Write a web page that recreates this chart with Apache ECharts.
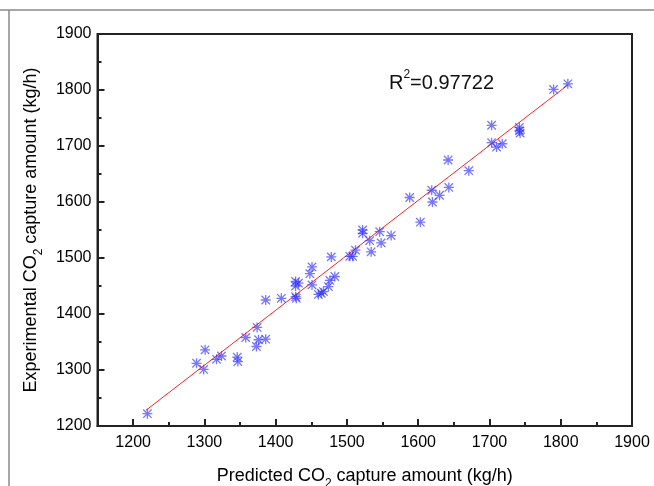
<!DOCTYPE html>
<html>
<head>
<meta charset="utf-8">
<script src="https://cdn.jsdelivr.net/npm/echarts@6/dist/echarts.min.js"></script>
<style>html,body{margin:0;padding:0;background:#fff}#c{width:654px;height:486px}</style>
</head>
<body>
<div id="c"></div>
<script>
// Predicted (x) vs experimental (y) CO2 capture amount, kg/h
const predicted = [1220,1289,1301,1299,1317,1324,1346,1347,1358,1374,1376,1373,1386,1386,1408,1428,1428,1432,1428,1429,1448,1451,1451,1460,1464,1467,1474,1476,1478,1483,1504,1508,1512,1522,1522,1532,1534,1546,1548,1562,1588,1603,1619,1620,1630,1643,1642,1671,1703,1703,1710,1718,1742,1742,1743,1790,1810];
const experimental = [1222,1312,1336,1301,1319,1325,1323,1315,1358,1376,1354,1342,1355,1425,1428,1458,1450,1455,1431,1428,1472,1484,1452,1435,1437,1440,1449,1460,1502,1467,1503,1503,1514,1550,1544,1531,1511,1547,1527,1540,1608,1564,1621,1600,1612,1626,1675,1656,1737,1706,1698,1704,1733,1727,1723,1801,1811];
// fitted line end points
const fitX = [1218, 1810];
const fitY = [1228, 1809];
const xTicks = [1200,1300,1400,1500,1600,1700,1800,1900];
const xMinorTicks = [1250,1350,1450,1550,1650,1750,1850];
const r2Text = '0.97722';

const chart = echarts.init(document.getElementById('c'), null, {renderer:'canvas'});
const axisCol = '#222';
const font = 'Liberation Sans, Arial, sans-serif';
const scatterData = predicted.map((v,i)=>[v, experimental[i]]);
const fitData = fitX.map((v,i)=>[v, fitY[i]]);
const plain = v => String(v);

chart.setOption({
  animation:false,
  textStyle:{fontFamily:font},
  grid:{left:97.5, right:22, top:34, bottom:60, containLabel:false, outerBoundsMode:'none',
        show:true, borderColor:axisCol, borderWidth:2, backgroundColor:'transparent'},
  xAxis:[{
    type:'value', min:1150, max:1900,
    axisLine:{show:true, lineStyle:{color:axisCol, width:2}},
    axisTick:{show:true, inside:true, length:7, customValues:xTicks, lineStyle:{color:axisCol, width:2}},
    axisLabel:{customValues:xTicks, fontSize:16, color:'#000', margin:9, fontFamily:font, formatter:plain},
    splitLine:{show:false},
    name:'{a|Predicted CO}{s|2}{a| capture amount (kg/h)}',
    nameLocation:'middle', nameGap:41,
    nameTextStyle:{rich:{
      a:{fontSize:18, color:'#000', fontFamily:font, verticalAlign:'top', lineHeight:21},
      s:{fontSize:12, color:'#000', fontFamily:font, verticalAlign:'top', lineHeight:12, padding:[11,0,0,0]}
    }}
  },{
    type:'value', min:1150, max:1900, position:'bottom', gridIndex:0,
    axisLine:{show:false},
    axisTick:{show:true, inside:true, length:4, customValues:xMinorTicks, lineStyle:{color:axisCol, width:2}},
    axisLabel:{show:false}, splitLine:{show:false}
  }],
  yAxis:{
    type:'value', min:1200, max:1900, interval:100,
    axisLine:{show:true, lineStyle:{color:axisCol, width:2}},
    axisTick:{show:true, inside:true, length:7, lineStyle:{color:axisCol, width:2}},
    minorTick:{show:true, splitNumber:2, length:4, lineStyle:{color:axisCol, width:2}},
    axisLabel:{fontSize:16, color:'#000', margin:6, fontFamily:font, formatter:plain},
    splitLine:{show:false},
    name:'{a|Experimental CO}{s|2}{a| capture amount (kg/h)}',
    nameLocation:'middle', nameGap:50,
    nameTextStyle:{rich:{
      a:{fontSize:18, color:'#000', fontFamily:font, verticalAlign:'top', lineHeight:21},
      s:{fontSize:12, color:'#000', fontFamily:font, verticalAlign:'top', lineHeight:12, padding:[11,0,0,0]}
    }}
  },
  series:[{
    type:'line', data:fitData, xAxisIndex:0, symbol:'none',
    lineStyle:{color:'#ff2020', width:1}, z:2
  },{
    type:'scatter', data:scatterData, xAxisIndex:0,
    symbol:'path://M5 0 L5 10 M0.8 0.8 L9.2 9.2 M0.8 9.2 L9.2 0.8 M0 5 L10 5',
    symbolSize:10,
    itemStyle:{color:'rgba(0,0,0,0)', borderColor:'rgba(40,40,255,0.8)', borderWidth:1.3},
    z:3
  }],
  graphic:[
    {type:'line', shape:{x1:0, y1:10, x2:654, y2:10}, style:{stroke:'#888', lineWidth:1.5}, silent:true},
    {type:'line', shape:{x1:9, y1:10, x2:9, y2:486}, style:{stroke:'#888', lineWidth:1.5}, silent:true},
    {type:'text', left:389, top:69, style:{
      text:'{a|R}{s|2}{a|=' + r2Text + '}',
      rich:{
        a:{fontSize:20, fill:'#111', fontFamily:font, verticalAlign:'bottom', lineHeight:24},
        s:{fontSize:12, fill:'#111', fontFamily:font, verticalAlign:'top', lineHeight:14}
      }
    }}
  ]
});
</script>
</body>
</html>
